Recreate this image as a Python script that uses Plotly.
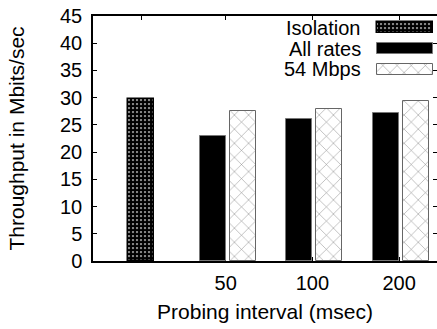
import plotly.graph_objects as go

# ---- data -----------------------------------------------------------------
interval_labels = ["", "50", "100", "200"]          # x tick labels
isolation = [29.7]                                   # single baseline bar
all_rates = [23.0, 26.1, 27.2]                       # per probing interval
mbps54 = [27.5, 28.0, 29.4]                          # per probing interval
y_ticks = [0, 5, 10, 15, 20, 25, 30, 35, 40, 45]
series_names = ["Isolation", "All rates", "54 Mbps"]

# ---- geometry / style -----------------------------------------------------
W, H = 437, 329
ML, MR, MT, MB = 93, 0, 16, 68
PW, PH = W - ML - MR, H - MT - MB
Y_MAX = 45

iso_pos = [0]
group_pos = [1, 2, 3]
bar_w = 0.30
gap = 0.046
x_range = [-0.554, 3.414]

FONT = "Liberation Sans, Arial, Helvetica, sans-serif"
FS = 20
FS_TITLE = 21

iso_marker = dict(
    color="white",
    line=dict(color="black", width=1.5),
    pattern=dict(shape=".", size=4, solidity=0.8, fgcolor="black",
                 bgcolor="#dddddd", fillmode="replace"),
)
all_marker = dict(color="black", line=dict(color="#777777", width=1))
m54_marker = dict(
    color="white",
    line=dict(color="#666666", width=1),
    pattern=dict(shape="x", size=10, solidity=0.1, fgcolor="#888888",
                 bgcolor="white", fillmode="replace"),
)

fig = go.Figure()

fig.add_trace(go.Bar(x=iso_pos, y=isolation, width=bar_w, marker=iso_marker,
                     name=series_names[0], showlegend=False))
fig.add_trace(go.Bar(x=group_pos, y=all_rates, width=bar_w,
                     offset=-(bar_w + gap / 2), marker=all_marker,
                     name=series_names[1], showlegend=False))
fig.add_trace(go.Bar(x=group_pos, y=mbps54, width=bar_w, offset=gap / 2,
                     marker=m54_marker, name=series_names[2], showlegend=False))

# ---- key: swatches on an overlay axis pair, labels right-aligned ----------
# swatch geometry in plot-area pixels (from the top-left corner)
key_cx, key_w, key_h = 312, 56, 11
key_tops = [6, 27, 48]
key_markers = [iso_marker, all_marker, m54_marker]
px2val = Y_MAX / PH
for top, mk in zip(key_tops, key_markers):
    fig.add_trace(go.Bar(x=[key_cx], y=[key_h * px2val],
                         base=[(PH - top - key_h) * px2val], width=key_w,
                         marker=mk, xaxis="x2", yaxis="y2",
                         showlegend=False, hoverinfo="skip"))

label_right = (363 - ML) / PW
for name, top in zip(series_names, key_tops):
    yc = top + key_h / 2
    fig.add_annotation(text=name, xref="paper", yref="paper",
                       x=label_right, y=1 - yc / PH, xanchor="right",
                       yanchor="middle", showarrow=False,
                       font=dict(family=FONT, size=FS, color="black"))

tick_pos = [iso_pos[0]] + [g - gap / 2 for g in group_pos]

fig.update_layout(
    width=W, height=H,
    margin=dict(l=ML, r=MR, t=MT, b=MB, pad=0),
    paper_bgcolor="white", plot_bgcolor="white",
    barmode="overlay", bargap=0,
    font=dict(family=FONT, size=FS, color="black"),
    xaxis=dict(
        range=x_range, tickvals=tick_pos, ticktext=interval_labels,
        ticks="inside", ticklen=4, tickcolor="black",
        showline=True, linecolor="black", linewidth=1.5, mirror="ticks",
        showgrid=False, zeroline=False, layer="below traces",
        ticklabelstandoff=3,
        title=dict(text="Probing interval (msec)", standoff=12,
                   font=dict(family=FONT, size=FS_TITLE)),
    ),
    yaxis=dict(
        range=[0, Y_MAX], tickvals=y_ticks,
        ticks="inside", ticklen=4, tickcolor="black",
        showline=True, linecolor="black", linewidth=1.5,
        showgrid=False, zeroline=False, ticklabelstandoff=5,
        title=dict(text="Throughput in Mbits/sec", standoff=30,
                   font=dict(family=FONT, size=FS_TITLE)),
    ),
    # right-hand ticks (no frame line on that side)
    yaxis2=dict(
        overlaying="y", side="right", anchor="x", range=[0, Y_MAX],
        tickvals=y_ticks, ticks="inside", ticklen=4, tickcolor="black",
        showticklabels=False, showline=False, showgrid=False, zeroline=False,
    ),
    xaxis2=dict(overlaying="x", range=[0, PW], visible=False),
)

fig.write_html("out.html")
